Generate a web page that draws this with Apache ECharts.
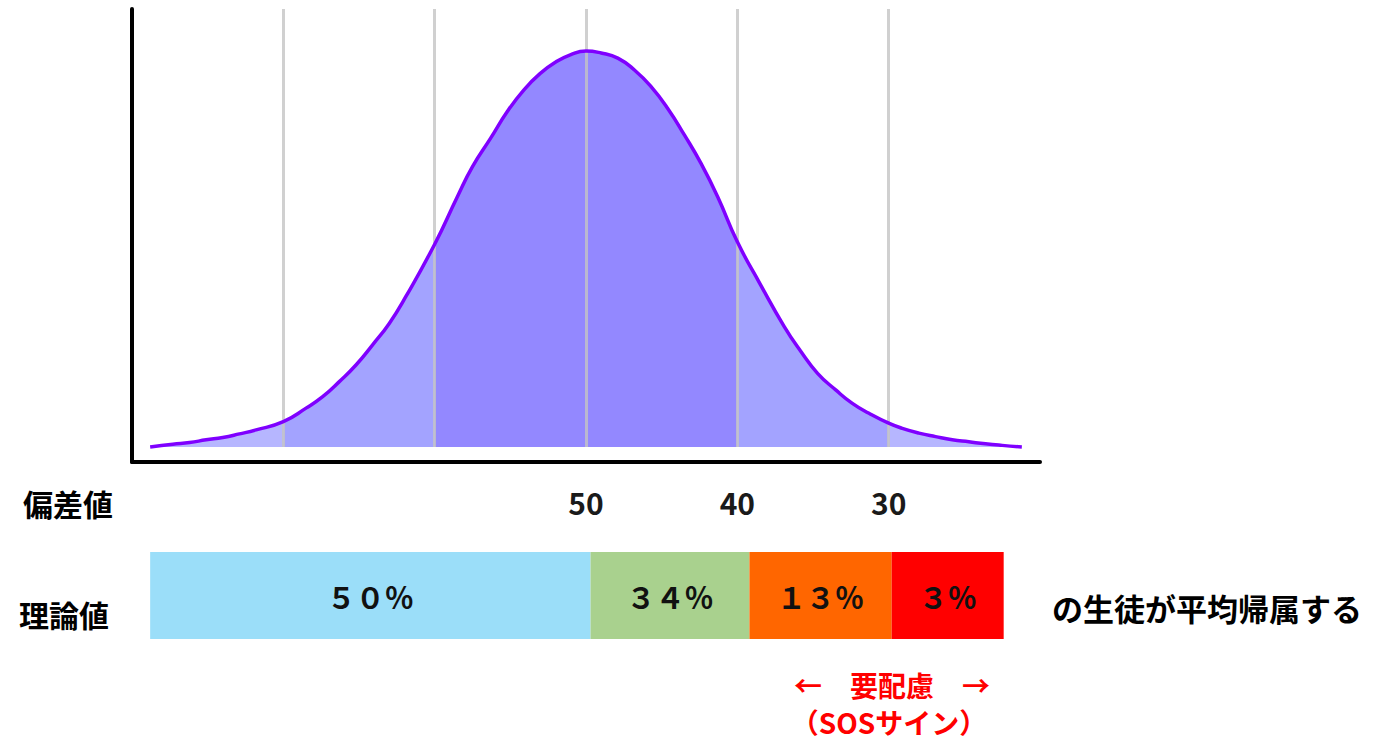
<!DOCTYPE html>
<html>
<head>
<meta charset="utf-8">
<script src="https://cdn.jsdelivr.net/npm/echarts@6/dist/echarts.min.js"></script>
<style>
html,body{margin:0;padding:0;background:#fff;}
#chart{width:1375px;height:741px;}
</style>
</head>
<body>
<div id="chart"></div>
<script>
// Deviation score (x) and relative curve height (y, peak = 100)
const devX = [78.8, 77.3, 76.2, 75.1, 74.0, 72.9, 71.8, 70, 68.5, 67.4, 66.3, 65.2, 64.1, 63.0, 61.9, 60,
              58.5, 57.5, 56.3, 55.2, 54.1, 53.0, 52.0, 51.0, 50,
              49.0, 47.9, 46.8, 45.7, 44.6, 43.5, 42.4, 41.3, 40,
              38.5, 36.9, 35.8, 34.7, 33.5, 32.4, 31.3, 30,
              29.1, 28.0, 26.9, 25.8, 24.7, 23.6, 22.5, 21.2];
const density = [0, 0.7, 1.1, 1.8, 2.4, 3.3, 4.3, 6.4, 9.8, 12.7, 16.5, 20.7, 25.8, 31.2, 38.0, 51.2,
                 63.2, 70.8, 78.0, 84.7, 90.2, 94.4, 97.2, 99.1, 100,
                 99.5, 98.2, 95.2, 91.0, 85.5, 78.8, 71.6, 63.2, 51.8,
                 41.2, 30.4, 24.1, 18.6, 14.4, 11.0, 8.5, 6.0,
                 4.7, 3.5, 2.6, 1.8, 1.3, 0.8, 0.4, 0];
// Shaded bands of the curve
const bandLo = [70, 60, 40, 30, 20];
const bandHi = [80, 70, 60, 40, 30];
const bandColors = ['#B6B6FF', '#A3A3FF', '#9388FF', '#A3A3FF', '#B6B6FF'];
// Vertical guide lines and tick labels
const gridValues = [70, 60, 50, 40, 30];
const tickLabels = [50, 40, 30];
// Theoretical share bar
const barStart = [78.8, 49.7, 39.2, 29.8];
const barEnd = [49.7, 39.2, 29.8, 22.4];
const barLabels = ['５０％', '３４％', '１３％', '３％'];
const barColors = ['#9BDEF9', '#A9D18E', '#FF6600', '#FF0000'];

const FONT = '"Noto Sans CJK JP", "Noto Sans", sans-serif';
const Y_MIN = -3.8, Y_MAX = 110.6;

const pts = devX.map((x, i) => [x, density[i]]);

const areaSeries = bandLo.map((lo, i) => ({
  type: 'line',
  xAxisIndex: 0, yAxisIndex: 0,
  data: pts.filter(p => p[0] >= lo && p[0] <= bandHi[i]),
  smooth: true,
  showSymbol: false,
  silent: true,
  z: 1,
  lineStyle: { width: 0, opacity: 0 },
  areaStyle: { color: bandColors[i], opacity: 1 }
}));

const chart = echarts.init(document.getElementById('chart'), null, { renderer: 'svg' });
chart.setOption({
  animation: false,
  backgroundColor: '#fff',
  grid: [
    { left: 132, right: 335, top: 9, bottom: 279 },
    { left: 132, right: 335, top: 552, height: 87 }
  ],
  xAxis: [
    {
      type: 'value', gridIndex: 0, min: 20, max: 80, interval: 10, inverse: true,
      axisLine: { onZero: false, lineStyle: { color: '#000', width: 4 } },
      axisTick: { show: false },
      splitLine: { show: false },
      axisLabel: {
        margin: 25, fontSize: 30, fontWeight: 'bold', color: '#1a1a1a', fontFamily: FONT,
        formatter: v => tickLabels.includes(v) ? String(v) : ''
      }
    },
    {
      type: 'value', gridIndex: 1, min: 20, max: 80, inverse: true, show: false
    }
  ],
  yAxis: [
    {
      type: 'value', gridIndex: 0, min: Y_MIN, max: Y_MAX,
      axisLine: { show: true, onZero: false, lineStyle: { color: '#000', width: 4 } },
      axisTick: { show: false }, axisLabel: { show: false }, splitLine: { show: false }
    },
    { type: 'value', gridIndex: 1, min: 0, max: 1, show: false }
  ],
  series: [
    ...areaSeries,
    {
      type: 'line',
      xAxisIndex: 0, yAxisIndex: 0,
      data: pts,
      smooth: true,
      showSymbol: false,
      silent: true,
      z: 4,
      lineStyle: { color: '#7F00FF', width: 3.5 },
      markLine: {
        silent: true,
        z: 3,
        symbol: ['none', 'none'],
        label: { show: false },
        lineStyle: { color: 'rgba(196,196,196,0.8)', width: 3, type: 'solid' },
        emphasis: { disabled: true },
        data: gridValues.map(v => [{ coord: [v, 0] }, { coord: [v, Y_MAX] }])
      }
    },
    {
      type: 'custom',
      xAxisIndex: 1, yAxisIndex: 1,
      silent: true,
      encode: { x: [0, 1], y: 2 },
      data: barStart.map((s, i) => [s, barEnd[i], 0.5]),
      renderItem: function (params, api) {
        const a = api.coord([api.value(0), 1]);
        const b = api.coord([api.value(1), 0]);
        const x = Math.min(a[0], b[0]);
        const w = Math.abs(b[0] - a[0]);
        const y = Math.min(a[1], b[1]);
        const h = Math.abs(b[1] - a[1]);
        return {
          type: 'group',
          children: [
            { type: 'rect', shape: { x: x, y: y, width: w, height: h },
              style: { fill: barColors[params.dataIndex] } },
            { type: 'text', x: x + w / 2, y: y + h / 2,
              style: { text: barLabels[params.dataIndex], fill: '#111',
                       font: 'bold 29px ' + FONT, align: 'center', verticalAlign: 'middle' } }
          ]
        };
      }
    }
  ],
  graphic: [
    { type: 'text', x: 68, y: 503, style: { text: '偏差値', font: 'bold 30px ' + FONT, fill: '#000', align: 'center', verticalAlign: 'middle' } },
    { type: 'text', x: 64, y: 614, style: { text: '理論値', font: 'bold 30px ' + FONT, fill: '#000', align: 'center', verticalAlign: 'middle' } },
    { type: 'text', x: 1052, y: 607, style: { text: 'の生徒が平均帰属する', font: 'bold 31px ' + FONT, fill: '#000', align: 'left', verticalAlign: 'middle' } },
    { type: 'text', x: 892, y: 685, style: { text: '←　要配慮　→', font: 'bold 28px ' + FONT, fill: '#FF0000', align: 'center', verticalAlign: 'middle' } },
    { type: 'text', x: 889, y: 722, style: { text: '（SOSサイン）', font: 'bold 28px ' + FONT, fill: '#FF0000', align: 'center', verticalAlign: 'middle' } }
  ]
});
</script>
</body>
</html>
